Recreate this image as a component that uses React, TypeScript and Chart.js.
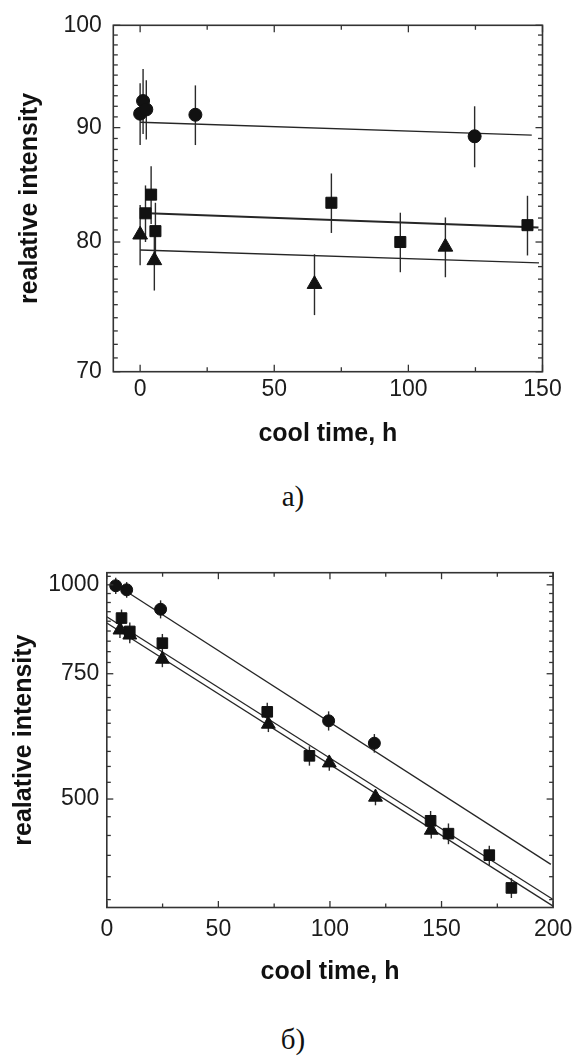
import React, { useEffect, useRef } from 'react';
import { Chart, registerables } from 'chart.js';

Chart.register(...registerables);

// ---------- Chart a) data ----------
const aCircleX = [0, 1.1, 2.3, 20.6, 124.7];
const aCircleY = [91.3, 92.5, 91.7, 91.2, 89.2];
const aCircleErr = [2.9, 3.1, 2.8, 2.8, 2.8];

const aSquareX = [2.0, 4.1, 5.7, 71.3, 97.0, 144.4];
const aSquareY = [82.4, 84.0, 80.9, 83.3, 80.0, 81.4];
const aSquareErr = [2.4, 2.5, 2.4, 2.55, 2.45, 2.5];

const aTriX = [0, 5.3, 65.0, 113.8];
const aTriY = [80.6, 78.5, 76.6, 79.6];
const aTriErr = [2.5, 2.4, 2.4, 2.45];

const aCircleFitX = [0, 146];
const aCircleFitY = [90.5, 89.3];
const aSquareFitX = [3, 148.5];
const aSquareFitY = [82.4, 81.2];
const aTriFitX = [0, 148.7];
const aTriFitY = [79.35, 78.3];

const aXMajor = [0, 50, 100, 150];
const aXMinor = [25, 75, 125];
const aYMajor = [70, 80, 90, 100];
const aYMinor = [71, 72, 73, 74, 75, 76, 77, 78, 79, 81, 82, 83, 84, 85, 86, 87, 88, 89, 91, 92, 93, 94, 95, 96, 97, 98, 99];

// ---------- Chart б) data ----------
const bCircleX = [4.0, 8.9, 24.1, 99.4, 119.9];
const bCircleY = [997, 984, 924, 644, 599];
const bCircleErr = [26, 25, 27, 20, 18];

const bSquareX = [6.6, 10.3, 24.9, 71.9, 90.8, 145.1, 153.1, 171.4, 181.3];
const bSquareY = [898, 860, 828, 663, 575, 466, 447, 417, 375];
const bSquareErr = [25, 25, 25, 20, 18, 15, 15, 13, 12];

const bTriX = [5.9, 10.3, 24.9, 72.4, 99.7, 120.4, 145.4];
const bTriY = [864, 850, 786, 637, 562, 503, 452];
const bTriErr = [22, 22, 20, 16, 14, 13, 12];

const bCircleFitX = [2, 199];
const bCircleFitY = [1010, 404.7];
const bSquareFitX = [0, 200];
const bSquareFitY = [902, 361.2];
const bTriFitX = [0, 200];
const bTriFitY = [883.7, 353.6];

const bXMajor = [0, 50, 100, 150, 200];
const bXMinor = [25, 75, 125, 175];
const bYMajor = [500, 750, 1000];
const bYMinor = [361.1, 388.9, 416.7, 444.4, 472.2, 527.8, 555.6, 583.3, 611.1, 638.9, 666.7, 694.4, 722.2, 777.8, 805.6, 833.3, 861.1, 888.9, 916.7, 944.4, 972.2, 1027.8];

const SANS = '"Liberation Sans", Arial, sans-serif';
const INK = '#1c1c1c';

const pts = (xs: number[], ys: number[]) => xs.map((x, i) => ({ x, y: ys[i] }));

const errorBars = {
  id: 'errorBars',
  beforeDatasetsDraw(chart: any) {
    const { ctx, scales } = chart;
    const xs = scales.x, ys = scales.y;
    ctx.save();
    ctx.strokeStyle = '#2a2a2a';
    chart.data.datasets.forEach((ds: any) => {
      if (!ds.errors) return;
      ctx.lineWidth = ds.errorWidth || 1.4;
      ds.data.forEach((p: any, i: number) => {
        const e = ds.errors[i];
        const px = xs.getPixelForValue(p.x);
        const y1 = ys.getPixelForValue(p.y - e);
        const y2 = ys.getPixelForValue(p.y + e);
        ctx.beginPath();
        ctx.moveTo(px, y1);
        ctx.lineTo(px, y2);
        ctx.stroke();
      });
    });
    ctx.restore();
  },
};

const frameTicks = {
  id: 'frameTicks',
  afterDraw(chart: any, _args: any, opts: any) {
    const { ctx, chartArea: a, scales } = chart;
    const xs = scales.x, ys = scales.y;
    ctx.save();
    ctx.strokeStyle = '#333';
    const seg = (x1: number, y1: number, x2: number, y2: number) => {
      ctx.beginPath();
      ctx.moveTo(x1, y1);
      ctx.lineTo(x2, y2);
      ctx.stroke();
    };
    ctx.lineWidth = 1.3;
    const xt = (vals: number[], len: number) =>
      vals.forEach((v) => {
        const p = xs.getPixelForValue(v);
        seg(p, a.bottom, p, a.bottom - len);
        seg(p, a.top, p, a.top + len);
      });
    const yt = (vals: number[], len: number) =>
      vals.forEach((v) => {
        const p = ys.getPixelForValue(v);
        seg(a.left, p, a.left + len, p);
        seg(a.right, p, a.right - len, p);
      });
    xt(opts.xMajor, opts.major);
    xt(opts.xMinor, opts.minor);
    yt(opts.yMajor, opts.major);
    yt(opts.yMinor, opts.minor);
    ctx.lineWidth = 1.6;
    ctx.strokeRect(a.left, a.top, a.right - a.left, a.bottom - a.top);
    ctx.restore();
  },
};

function markerSet(data: any[], errors: number[], style: string, radius: number) {
  return {
    data,
    errors,
    pointStyle: style,
    pointRadius: radius,
    pointHoverRadius: radius,
    backgroundColor: '#111',
    borderColor: '#111',
    borderWidth: 1,
    showLine: false,
    clip: false,
  };
}

function fitSet(data: any[], width: number) {
  return {
    data,
    showLine: true,
    pointRadius: 0,
    borderColor: '#262626',
    borderWidth: width,
    fill: false,
  };
}

function buildConfig(o: any) {
  return {
    type: 'scatter',
    data: { datasets: o.datasets },
    options: {
      animation: false,
      responsive: false,
      devicePixelRatio: 1,
      events: [],
      layout: { padding: { top: o.padTop, right: o.padRight, left: 0, bottom: 0 } },
      plugins: {
        legend: { display: false },
        tooltip: { enabled: false },
        frameTicks: {
          xMajor: o.xMajor,
          xMinor: o.xMinor,
          yMajor: o.yMajor,
          yMinor: o.yMinor,
          major: o.tickMajor,
          minor: o.tickMinor,
        },
      },
      scales: {
        x: {
          type: 'linear',
          min: o.xMin,
          max: o.xMax,
          grid: { display: false, drawTicks: false },
          border: { display: false },
          afterBuildTicks: (s: any) => {
            s.ticks = o.xMajor.map((v: number) => ({ value: v }));
          },
          afterFit: (s: any) => {
            s.height = o.xAxisH;
          },
          ticks: {
            padding: o.xTickPad,
            autoSkip: false,
            maxRotation: 0,
            color: INK,
            font: { family: SANS, size: o.tickSize },
            callback: (v: any) => String(v),
          },
          title: {
            display: true,
            text: 'cool time, h',
            color: '#111',
            font: { family: SANS, size: 25, weight: 'bold' },
            padding: { top: 0, bottom: o.xTitlePad },
          },
        },
        y: {
          type: 'logarithmic',
          min: o.yMin,
          max: o.yMax,
          grid: { display: false, drawTicks: false },
          border: { display: false },
          afterBuildTicks: (s: any) => {
            s.ticks = o.yMajor.map((v: number) => ({ value: v }));
          },
          afterFit: (s: any) => {
            s.width = o.yAxisW;
          },
          ticks: {
            padding: o.yTickPad,
            autoSkip: false,
            color: INK,
            font: { family: SANS, size: o.tickSize },
            callback: (v: any) => String(v),
          },
          title: {
            display: true,
            text: 'realative intensity',
            color: '#111',
            font: { family: SANS, size: 25, weight: 'bold' },
            padding: { top: o.yTitlePad, bottom: 0 },
          },
        },
      },
    },
    plugins: [errorBars, frameTicks],
  };
}

const configA = () =>
  buildConfig({
    datasets: [
      markerSet(pts(aCircleX, aCircleY), aCircleErr, 'circle', 6.5),
      markerSet(pts(aSquareX, aSquareY), aSquareErr, 'rect', 7.8),
      markerSet(pts(aTriX, aTriY), aTriErr, 'triangle', 8.5),
      fitSet(pts(aCircleFitX, aCircleFitY), 1.3),
      fitSet(pts(aSquareFitX, aSquareFitY), 2.0),
      fitSet(pts(aTriFitX, aTriFitY), 1.4),
    ],
    padTop: 20.7,
    padRight: 38.5,
    xAxisH: 88.3,
    yAxisW: 113.3,
    xMin: -10,
    xMax: 150,
    yMin: 70,
    yMax: 100,
    xMajor: aXMajor,
    xMinor: aXMinor,
    yMajor: aYMajor,
    yMinor: aYMinor,
    tickMajor: 7,
    tickMinor: 4.5,
    tickSize: 23,
    xTickPad: 4.5,
    yTickPad: 11.5,
    xTitlePad: 11,
    yTitlePad: 15,
  });

const configB = () =>
  buildConfig({
    datasets: [
      markerSet(pts(bCircleX, bCircleY), bCircleErr, 'circle', 6),
      markerSet(pts(bSquareX, bSquareY), bSquareErr, 'rect', 7.5),
      markerSet(pts(bTriX, bTriY), bTriErr, 'triangle', 8),
      fitSet(pts(bCircleFitX, bCircleFitY), 1.3),
      fitSet(pts(bSquareFitX, bSquareFitY), 1.3),
      fitSet(pts(bTriFitX, bTriFitY), 1.3),
    ],
    padTop: 32.7,
    padRight: 25,
    xAxisH: 92.5,
    yAxisW: 106.8,
    xMin: 0,
    xMax: 200,
    yMin: 352,
    yMax: 1040,
    xMajor: bXMajor,
    xMinor: bXMinor,
    yMajor: bYMajor,
    yMinor: bYMinor,
    tickMajor: 6.5,
    tickMinor: 4,
    tickSize: 23,
    xTickPad: 8.7,
    yTickPad: 7.5,
    xTitlePad: 13,
    yTitlePad: 9,
  });

function ChartCanvas({ make, top, height }: { make: () => any; top: number; height: number }) {
  const ref = useRef<HTMLCanvasElement>(null);
  useEffect(() => {
    const chart = new Chart(ref.current as HTMLCanvasElement, make());
    return () => chart.destroy();
  }, []);
  return (
    <canvas
      ref={ref}
      width={581}
      height={height}
      style={{ position: 'absolute', left: 0, top, width: 581, height, display: 'block' }}
    />
  );
}

const captionStyle: React.CSSProperties = {
  position: 'absolute',
  left: 243,
  width: 100,
  textAlign: 'center',
  fontFamily: '"Liberation Serif", "Times New Roman", serif',
  fontSize: 29,
  lineHeight: '32px',
  color: '#111',
};

export default function App() {
  return (
    <div
      style={{
        position: 'absolute',
        left: 0,
        top: 0,
        width: 581,
        height: 1057,
        background: '#fff',
        overflow: 'hidden',
      }}
    >
      <ChartCanvas make={configA} top={0} height={460} />
      <div style={{ ...captionStyle, top: 480 }}>a)</div>
      <ChartCanvas make={configB} top={540} height={460} />
      <div style={{ ...captionStyle, top: 1023 }}>б)</div>
    </div>
  );
}
